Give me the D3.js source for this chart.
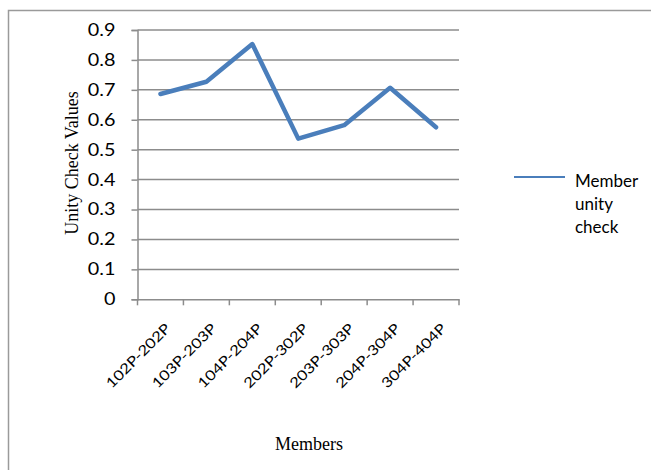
<!DOCTYPE html>
<html><head><meta charset="utf-8">
<script src="https://cdn.jsdelivr.net/npm/d3@7"></script>
<style>body{margin:0;background:#fff}svg{display:block}</style>
</head><body>
<script>
const categories = ["102P-202P","103P-203P","104P-204P","202P-302P","203P-303P","204P-304P","304P-404P"];
const values = [0.686, 0.727, 0.853, 0.537, 0.582, 0.707, 0.575];
const yTicks = [0,0.1,0.2,0.3,0.4,0.5,0.6,0.7,0.8,0.9];
const seriesName = ["Member","unity","check"];

(function () {
const W = 651, H = 470;
const svg = d3.select("body").append("svg").attr("width", W).attr("height", H);
svg.append("rect").attr("x", 8.5).attr("y", 10.5).attr("width", 700).attr("height", 500)
  .attr("fill", "#fff").attr("stroke", "#9a9a9a").attr("stroke-width", 1.5);

const pLeft = 137.5, pRight = 459, pTop = 30, pBottom = 299.3;
const x = d3.scaleBand().domain(categories).range([pLeft, pRight]);
const y = d3.scaleLinear().domain([0, 0.9]).range([pBottom, pTop]);
const grey = "#8c8c8c";
const sans = "Lato, 'Open Sans', sans-serif";
const serif = "'Liberation Serif', 'Times New Roman', serif";

// gridlines
svg.append("g").selectAll("line").data(yTicks.filter(d => d > 0)).join("line")
  .attr("x1", pLeft).attr("x2", pRight).attr("y1", d => y(d)).attr("y2", d => y(d))
  .attr("stroke", grey).attr("stroke-width", 1.5);

// y axis
const ya = svg.append("g").attr("transform", `translate(${pLeft},0)`)
  .call(d3.axisLeft(y).tickValues(yTicks).tickSize(6).tickFormat(""));
ya.select(".domain").attr("stroke", grey).attr("stroke-width", 1.5);
ya.selectAll(".tick line").attr("stroke", grey).attr("stroke-width", 1.5);
svg.append("g").selectAll("text").data(yTicks).join("text")
  .attr("transform", d => `translate(115.5,${y(d)}) scale(1.2,1)`)
  .attr("dy", "0.36em").attr("text-anchor", "end")
  .attr("font-family", sans).attr("font-size", 16.5).attr("fill", "#000")
  .text(d => d === 0 ? "0" : d3.format(".1f")(d));

// x axis
const xa = svg.append("g").attr("transform", `translate(0,${pBottom})`)
  .call(d3.axisBottom(x).tickSize(0).tickFormat(""));
xa.select(".domain").attr("stroke", grey).attr("stroke-width", 1.5);
const tickPos = d3.range(categories.length + 1).map(i => pLeft + i * x.step());
svg.append("g").selectAll("line").data(tickPos).join("line")
  .attr("x1", d => d).attr("x2", d => d).attr("y1", pBottom).attr("y2", pBottom + 6)
  .attr("stroke", grey).attr("stroke-width", 1.5);
svg.append("g").selectAll("text").data(categories).join("text")
  .attr("transform", d => `translate(${x(d) + x.bandwidth()/2 + 11},${pBottom + 30}) rotate(-45) scale(1.2,1)`)
  .attr("text-anchor", "end").attr("font-family", sans)
  .attr("font-size", 14).attr("fill", "#000").text(d => d);

// line
svg.append("path").datum(values)
  .attr("d", d3.line().x((d, i) => x(categories[i]) + x.bandwidth()/2).y(d => y(d)))
  .attr("fill", "none").attr("stroke", "#4a7ebb").attr("stroke-width", 4.5)
  .attr("stroke-linejoin", "round").attr("stroke-linecap", "round");

// axis titles
svg.append("text").attr("transform", `translate(78,163) rotate(-90)`).attr("text-anchor", "middle")
  .attr("font-family", serif).attr("font-size", 18)
  .attr("fill", "#000").text("Unity Check Values");
svg.append("text").attr("x", 309).attr("y", 450).attr("text-anchor", "middle")
  .attr("font-family", serif).attr("font-size", 18)
  .attr("fill", "#000").text("Members");

// legend
svg.append("line").attr("x1", 514).attr("x2", 565).attr("y1", 177).attr("y2", 177)
  .attr("stroke", "#4a7ebb").attr("stroke-width", 2);
svg.append("g").selectAll("text").data(seriesName).join("text")
  .attr("x", 575).attr("y", (d, i) => 187 + i * 23)
  .attr("font-family", sans).attr("font-size", 17).attr("fill", "#000")
  .text(d => d);
})();
</script>
</body></html>
